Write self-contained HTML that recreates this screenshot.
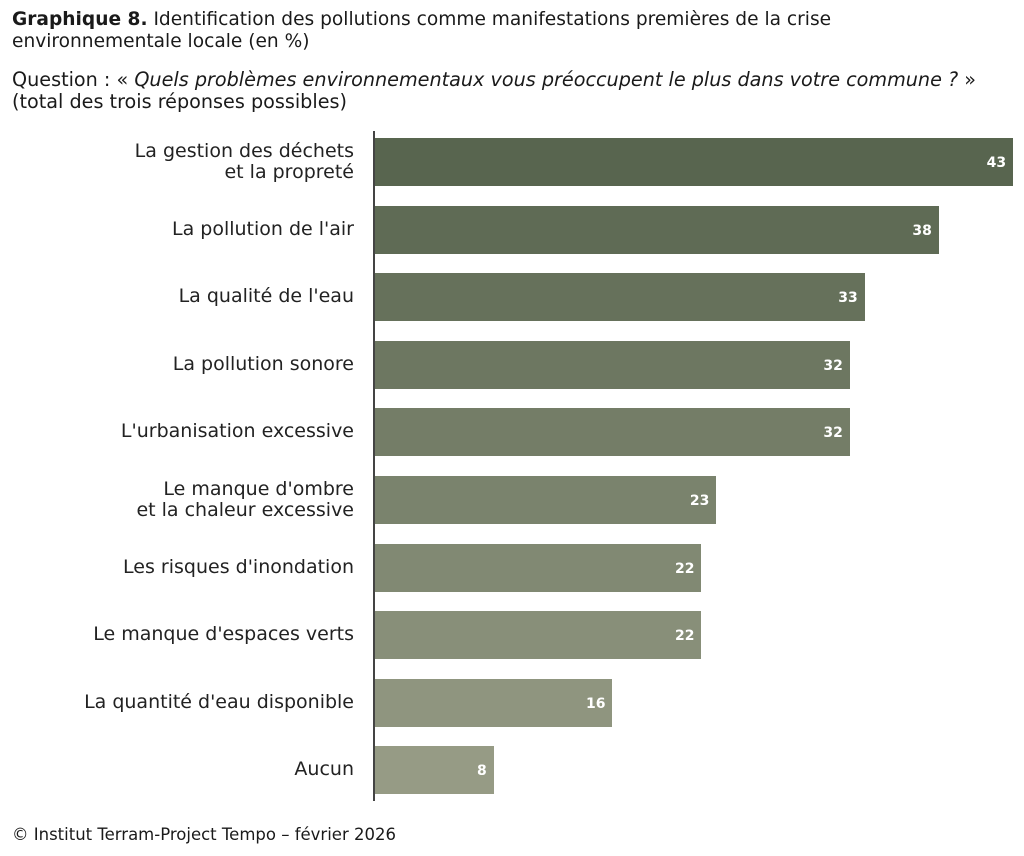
<!DOCTYPE html>
<html><head><meta charset="utf-8"><style>
body{margin:0;width:1024px;height:856px;background:#fff;font-family:"DejaVu Sans","Liberation Sans",sans-serif;color:#1a1a1a;position:relative;overflow:hidden}
.t{position:absolute;left:12px;font-size:18.6px;line-height:22px;white-space:nowrap}
.lab{position:absolute;right:670px;text-align:right;font-size:19px;line-height:21px;color:#222;white-space:nowrap}
.bar{position:absolute;left:375px;height:48px}
.v{position:absolute;color:#fff;font-weight:bold;font-size:14px;line-height:48px;text-align:right}
</style></head><body>
<div class="t" style="top:9px"><b>Graphique 8.</b> Identification des pollutions comme manifestations premières de la crise<br>environnementale locale (en %)</div>
<div class="t" style="top:69px;font-size:19.2px">Question : « <i>Quels problèmes environnementaux vous préoccupent le plus dans votre commune ?</i> »<br>(total des trois réponses possibles)</div>
<div style="position:absolute;left:373px;top:131px;width:2px;height:670px;background:#444"></div>
<div id="c"></div>
<div class="t" style="top:824px;font-size:16.5px">© Institut Terram-Project Tempo – février 2026</div>
<script>
var d=[["La gestion des déchets<br>et la propreté",43],["La pollution de l'air",38],["La qualité de l'eau",33],["La pollution sonore",32],["L'urbanisation excessive",32],["Le manque d'ombre<br>et la chaleur excessive",23],["Les risques d'inondation",22],["Le manque d'espaces verts",22],["La quantité d'eau disponible",16],["Aucun",8]];
var c0=[88,101,79],c1=[150,155,133],h="";
d.forEach(function(r,i){var y=138+i*67.6,w=r[1]*14.84,f=i/9;
var col="rgb("+c0.map(function(a,k){return Math.round(a+(c1[k]-a)*f)}).join(",")+")";
var two=r[0].indexOf("<br>")>0;
h+='<div class="lab" style="top:'+(y+(two?3:13))+'px">'+r[0]+'</div>';
h+='<div class="bar" style="top:'+y+'px;width:'+w+'px;background:'+col+'"></div>';
h+='<div class="v" style="top:'+(y+1)+'px;left:'+(375+w-60)+'px;width:53px">'+r[1]+'</div>';});
document.getElementById("c").innerHTML=h;
</script>
</body></html>
